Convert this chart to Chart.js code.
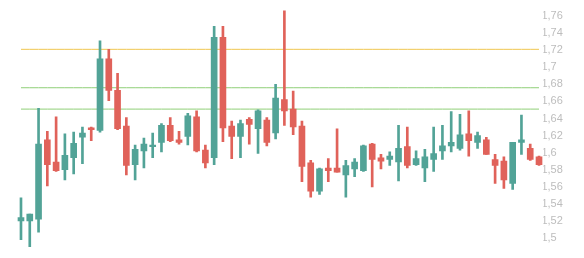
<!DOCTYPE html>
<html>
<head>
<meta charset="utf-8">
<script src="https://cdn.jsdelivr.net/npm/chart.js@4"></script>
<style>
html,body{margin:0;padding:0;background:#fff;}
#wrap{width:584px;height:258px;position:relative;}
</style>
</head>
<body>
<div id="wrap"><canvas id="c"></canvas></div>
<script>
const categories = Array.from({length: 60}, (_, i) => String(i + 1));
const openValues  = [1.520,1.520,1.522,1.615,1.589,1.580,1.594,1.618,1.629,1.626,1.710,1.673,1.631,1.586,1.602,1.607,1.612,1.632,1.615,1.619,1.642,1.603,1.594,1.735,1.631,1.619,1.639,1.628,1.638,1.623,1.662,1.651,1.631,1.588,1.555,1.582,1.582,1.574,1.581,1.579,1.610,1.594,1.592,1.589,1.607,1.586,1.582,1.592,1.602,1.608,1.605,1.622,1.612,1.615,1.592,1.590,1.564,1.612,1.605,1.595];
const highValues  = [1.547,1.528,1.652,1.625,1.642,1.622,1.624,1.630,1.630,1.731,1.721,1.693,1.641,1.609,1.617,1.623,1.634,1.641,1.625,1.646,1.649,1.609,1.748,1.748,1.637,1.638,1.641,1.650,1.641,1.680,1.766,1.672,1.637,1.591,1.582,1.593,1.628,1.591,1.593,1.609,1.611,1.598,1.601,1.632,1.630,1.602,1.604,1.630,1.632,1.648,1.645,1.649,1.624,1.618,1.598,1.595,1.612,1.644,1.610,1.596];
const lowValues   = [1.498,1.490,1.507,1.561,1.578,1.568,1.575,1.587,1.614,1.624,1.661,1.627,1.574,1.568,1.582,1.594,1.601,1.613,1.610,1.609,1.601,1.582,1.586,1.613,1.593,1.594,1.610,1.599,1.608,1.616,1.632,1.621,1.566,1.548,1.551,1.566,1.577,1.548,1.572,1.578,1.560,1.581,1.585,1.567,1.582,1.585,1.566,1.578,1.592,1.601,1.603,1.596,1.605,1.598,1.564,1.558,1.557,1.598,1.591,1.585];
const closeValues = [1.524,1.528,1.610,1.586,1.579,1.597,1.611,1.623,1.627,1.710,1.673,1.628,1.585,1.604,1.610,1.609,1.632,1.614,1.612,1.643,1.602,1.588,1.735,1.629,1.619,1.634,1.633,1.649,1.612,1.664,1.649,1.630,1.584,1.555,1.581,1.579,1.577,1.585,1.589,1.608,1.592,1.590,1.596,1.605,1.585,1.593,1.595,1.599,1.608,1.612,1.621,1.614,1.620,1.598,1.585,1.568,1.612,1.615,1.592,1.586];
const levelYellow = 1.721;
const levelGreenHigh = 1.676;
const levelGreenLow = 1.651;
const yTickValues = [1.5,1.52,1.54,1.56,1.58,1.6,1.62,1.64,1.66,1.68,1.7,1.72,1.74,1.76];
const yTickLabels = ['1,5','1,52','1,54','1,56','1,58','1,6','1,62','1,64','1,66','1,68','1,7','1,72','1,74','1,76'];

const UP = '#52a397';
const DOWN = '#e0625a';
const colors = closeValues.map((c, i) => c >= openValues[i] ? UP : DOWN);

new Chart(document.getElementById('c'), {
  type: 'bar',
  data: {
    labels: categories,
    datasets: [
      {
        label: 'body',
        data: openValues.map((o, i) => [o, closeValues[i]]),
        backgroundColor: colors,
        borderWidth: 0,
        barThickness: 6,
        grouped: false,
        order: 0
      },
      {
        label: 'wick',
        data: lowValues.map((l, i) => [l, highValues[i]]),
        backgroundColor: colors,
        borderWidth: 0,
        barThickness: 2,
        grouped: false,
        order: 1
      },
      {
        type: 'line',
        label: 'yellow',
        data: categories.map(() => levelYellow),
        borderColor: '#f0c64f',
        borderWidth: 1,
        pointRadius: 0,
        order: 2
      },
      {
        type: 'line',
        label: 'green1',
        data: categories.map(() => levelGreenHigh),
        borderColor: '#8fcf77',
        borderWidth: 1,
        pointRadius: 0,
        order: 2
      },
      {
        type: 'line',
        label: 'green2',
        data: categories.map(() => levelGreenLow),
        borderColor: '#8fcf77',
        borderWidth: 1,
        pointRadius: 0,
        order: 2
      }
    ]
  },
  options: {
    responsive: true,
    maintainAspectRatio: false,
    animation: false,
    layout: { padding: { left: 16.6, right: 0, top: 5, bottom: 8 } },
    plugins: { legend: { display: false }, tooltip: { enabled: false } },
    scales: {
      x: {
        display: false,
        offset: true
      },
      y: {
        position: 'right',
        min: 1.486,
        max: 1.7729,
        grid: { display: false, drawTicks: false },
        border: { display: false },
        afterFit: (scale) => { scale.width = 40.6; },
        afterBuildTicks: (scale) => { scale.ticks = yTickValues.map(v => ({ value: v })); },
        ticks: {
          padding: -2,
          color: '#bdbdbd',
          font: { family: 'Liberation Sans, Arial, sans-serif', size: 11 },
          callback: (v, i) => yTickLabels[i]
        }
      }
    }
  }
});
</script>
</body>
</html>
